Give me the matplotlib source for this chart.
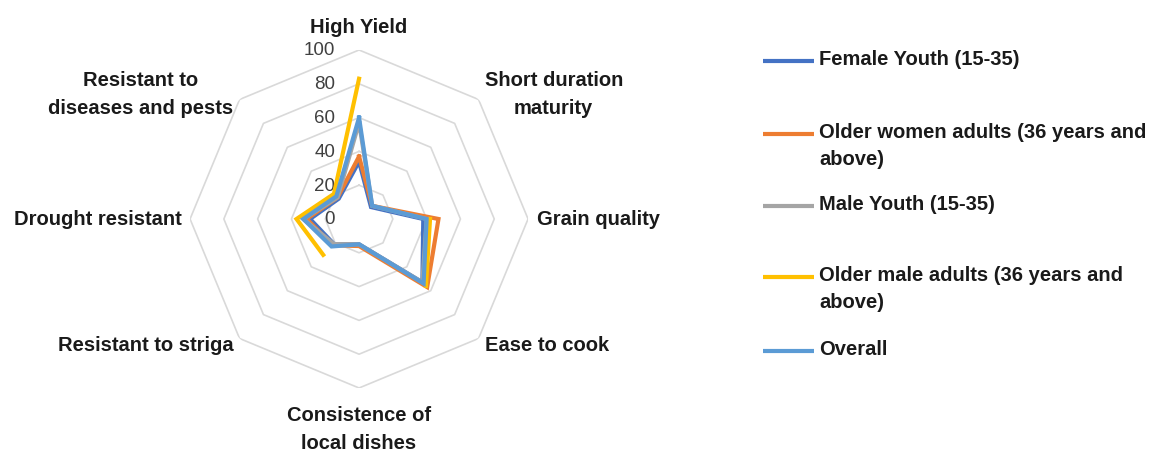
import numpy as np
import matplotlib.pyplot as plt
from matplotlib.transforms import offset_copy

# Category axes (clockwise from top)
categories = ['High Yield', 'Short duration\nmaturity', 'Grain quality', 'Ease to cook',
              'Consistence of\nlocal dishes', 'Resistant to striga', 'Drought resistant',
              'Resistant to\ndiseases and pests']

# Series values (%), NaN = empty cell in the source sheet
female_youth = [34, 10, 38, 53, 15, 21, 29, 17]
older_women = [37, 11, 47, 57, 16, 22, 31, 18]
male_youth = [57, 11, 40, 53, 15, 21, 33, 18]
older_male = [83, np.nan, 42, 56, np.nan, 30, 37, 21]
overall = [60, 11, 40, 54, 15, 23, 33, 19]

series_names = ['Female Youth (15-35)', 'Older women adults (36 years and\nabove)',
                'Male Youth (15-35)', 'Older male adults (36 years and\nabove)', 'Overall']
series_values = [female_youth, older_women, male_youth, older_male, overall]
colors = ['#4472C4', '#ED7D31', '#A5A5A5', '#FFC000', '#5B9BD5']

ring_values = [20, 40, 60, 80, 100]
tick_values = [0, 20, 40, 60, 80, 100]

plt.rcParams['font.family'] = ['Liberation Sans', 'DejaVu Sans']

fig = plt.figure(figsize=(11.56, 4.52), dpi=100)
ax = fig.add_axes([0.1644, 0.1394, 0.2924, 0.7478], projection='polar')
ax.set_theta_zero_location('N')
ax.set_theta_direction(-1)
ax.set_ylim(0, 100)
ax.set_xticks([])
ax.set_yticks([])
ax.grid(False)
ax.spines['polar'].set_visible(False)
ax.patch.set_visible(False)

n = len(categories)
angles = np.arange(n) * 2 * np.pi / n
closed = np.append(angles, angles[0])

# octagon gridlines
for r in ring_values:
    ax.plot(closed, [r] * (n + 1), color='#D9D9D9', lw=1.2, zorder=1)

# series
for vals, col in zip(series_values, colors):
    v = np.append(vals, vals[0])
    ax.plot(closed, v, color=col, lw=3.0, zorder=3, solid_joinstyle='miter')

# radial tick labels
tick_tr = offset_copy(ax.transData, fig=fig, x=-24, y=0, units='dots')
for t in tick_values:
    ax.text(0, t, str(t), transform=tick_tr, ha='right', va='center',
            fontsize=13.5, color='#404040', zorder=2)

# category labels
lab_kw = dict(fontsize=14.5, fontweight='bold', color='#1a1a1a', linespacing=1.55)
ax.text(angles[0], 114, categories[0], ha='center', va='center', **lab_kw)
ax.text(angles[1], 105, categories[1], ha='left', va='center', multialignment='center', **lab_kw)
ax.text(angles[2], 105, categories[2], ha='left', va='center', **lab_kw)
ax.text(angles[3], 105, categories[3], ha='left', va='center', **lab_kw)
ax.text(angles[4], 124, categories[4], ha='center', va='center', multialignment='center', **lab_kw)
ax.text(angles[5], 105, categories[5], ha='right', va='center', **lab_kw)
ax.text(angles[6], 105, categories[6], ha='right', va='center', **lab_kw)
ax.text(angles[7], 105, categories[7], ha='right', va='center', multialignment='center', **lab_kw)

# legend drawn manually (handle aligned with first text line)
leg = fig.add_axes([0, 0, 1, 1])
leg.set_xlim(0, 1156)
leg.set_ylim(452, 0)
leg.axis('off')
leg_y = [62, 135, 207, 278, 352]
for name, col, y in zip(series_names, colors, leg_y):
    leg.plot([763, 814], [y, y], color=col, lw=3.0, solid_capstyle='butt')
    leg.text(819, y - 12, name, ha='left', va='top', fontsize=14.5,
             fontweight='bold', color='#1a1a1a', linespacing=1.55)

fig.savefig('out.png', dpi=100)
